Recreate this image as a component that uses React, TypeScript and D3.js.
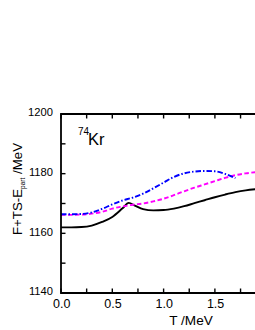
import React from "react";
import * as d3 from "d3";

const T = [0, 0.1, 0.2, 0.3, 0.4, 0.5, 0.6, 0.66, 0.72, 0.8, 0.9, 1.0, 1.1, 1.2, 1.3, 1.4, 1.5, 1.6, 1.7, 1.8, 1.9];
const black = [1162, 1162, 1162.1, 1162.6, 1163.8, 1165.5, 1168.4, 1170.2, 1169.3, 1168.1, 1167.7, 1167.8, 1168.3, 1169.1, 1170.1, 1171.1, 1172.1, 1173.0, 1173.8, 1174.4, 1174.8];

const Tb = [0, 0.1, 0.2, 0.3, 0.4, 0.5, 0.6, 0.7, 0.8, 0.9, 1.0, 1.1, 1.2, 1.3, 1.4, 1.5, 1.6, 1.7];
const blue = [1166.4, 1166.4, 1166.5, 1167.0, 1168.2, 1169.7, 1171.0, 1172.0, 1173.3, 1175.1, 1177.0, 1178.9, 1180.1, 1180.7, 1180.9, 1180.8, 1179.9, 1178.5];

const Tm = [0, 0.1, 0.2, 0.3, 0.4, 0.5, 0.6, 0.7, 0.8, 0.9, 1.0, 1.1, 1.2, 1.3, 1.4, 1.5, 1.6, 1.7, 1.8, 1.9];
const magenta = [1166.2, 1166.2, 1166.3, 1166.6, 1167.2, 1168.3, 1169.0, 1169.6, 1170.0, 1170.7, 1171.6, 1172.8, 1174.1, 1175.3, 1176.4, 1177.5, 1178.6, 1179.5, 1180.1, 1180.5];

const xTickLabels = [0, 0.5, 1.0, 1.5];
const xTicks = [0, 0.25, 0.5, 0.75, 1.0, 1.25, 1.5, 1.75, 2.0];
const yTickLabels = [1140, 1160, 1180, 1200];
const yTicks = [1140, 1150, 1160, 1170, 1180, 1190, 1200];

const W = 255;
const H = 330;
const FONT = "'Liberation Sans', Arial, sans-serif";

export default function App() {
  const x = d3.scaleLinear().domain([0, 2]).range([61, 266.2]);
  const y = d3.scaleLinear().domain([1140, 1200]).range([293, 114]);

  const mk = (xs: number[], ys: number[]) =>
    d3
      .line<number>()
      .x((_, i) => x(xs[i]))
      .y((d) => y(d))
      .curve(d3.curveMonotoneX)(ys) as string;

  const left = x(0);
  const right = x(2);
  const top = y(1200);
  const bottom = y(1140);

  return (
    <svg
      width={W}
      height={H}
      style={{ position: "absolute", left: 0, top: 0, background: "#fff" }}
      fontFamily={FONT}
    >
      <path d={mk(T, black)} fill="none" stroke="#000" strokeWidth={1.9} />
      <path d={mk(Tm, magenta)} fill="none" stroke="#ff00ff" strokeWidth={1.9} strokeDasharray="4.5 2.5" />
      <path d={mk(Tb, blue)} fill="none" stroke="#0000ff" strokeWidth={1.9} strokeDasharray="5.5 2 1.5 2" />

      <line x1={left} y1={top} x2={right} y2={top} stroke="#000" strokeWidth={1.8} />
      <line x1={left} y1={bottom} x2={right} y2={bottom} stroke="#000" strokeWidth={1.8} />
      <line x1={left} y1={top - 0.9} x2={left} y2={bottom + 0.9} stroke="#000" strokeWidth={1.8} />

      {xTicks.map((t) => (
        <g key={"xt" + t}>
          <line x1={x(t)} x2={x(t)} y1={bottom} y2={bottom - 4.5} stroke="#000" strokeWidth={1.4} />
          <line x1={x(t)} x2={x(t)} y1={top} y2={top + 4.5} stroke="#000" strokeWidth={1.4} />
        </g>
      ))}
      {yTicks.map((v) => (
        <line key={"yt" + v} x1={left} x2={left + 4.5} y1={y(v)} y2={y(v)} stroke="#000" strokeWidth={1.4} />
      ))}

      {xTickLabels.map((t) => (
        <text key={"xl" + t} x={x(t) + 0.7} y={308.3} fontSize={12.5} textAnchor="middle">
          {t.toFixed(1)}
        </text>
      ))}
      {yTickLabels.map((v) => (
        <text key={"yl" + v} x={53} y={y(v) + 2.3} fontSize={11.2} textAnchor="end">
          {v}
        </text>
      ))}

      <text x={191} y={325} fontSize={13.6} textAnchor="middle">
        T /MeV
      </text>

      <text transform={`translate(21.5,189) rotate(-90)`} fontSize={13.3} textAnchor="middle">
        F+TS-E<tspan fontSize={6.5} dy={3}>part</tspan>
        <tspan dy={-3}> /MeV</tspan>
      </text>

      <text x={78} y={135} fontSize={10}>74</text>
      <text x={88} y={145} fontSize={16.5}>Kr</text>
    </svg>
  );
}
